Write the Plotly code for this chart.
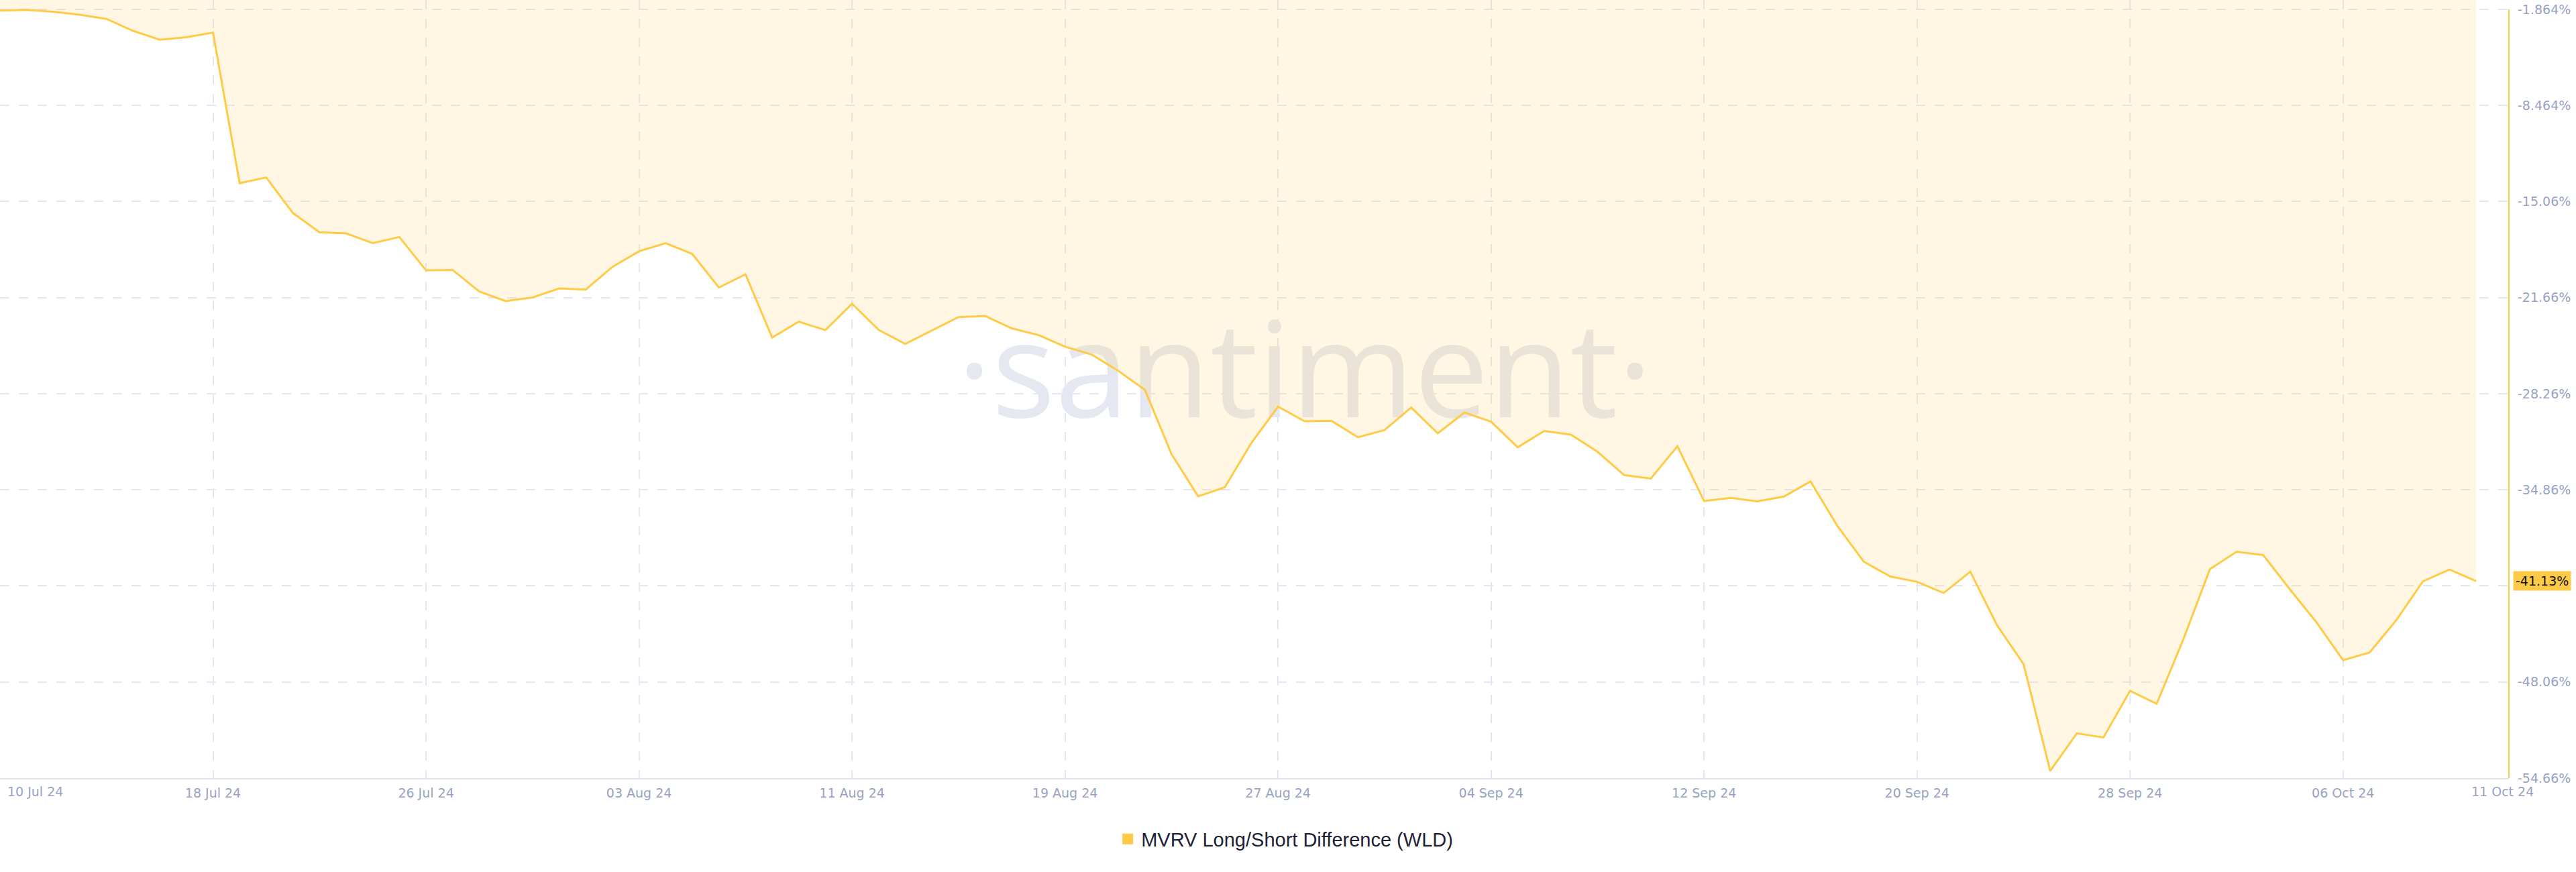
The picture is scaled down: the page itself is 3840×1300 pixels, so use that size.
import pandas as pd
import plotly.graph_objects as go

# ---- data ----
start_date = "2024-07-10"
end_date = "2024-10-11"
mvrv_values = [
    -1.95, -1.90, -2.03, -2.23, -2.52, -3.34, -3.95, -3.78, -3.46, -13.80,
    -13.41, -15.85, -17.17, -17.25, -17.92, -17.50, -19.79, -19.76, -21.24, -21.90,
    -21.65, -21.03, -21.11, -19.55, -18.48, -17.92, -18.66, -20.97, -20.06, -24.41,
    -23.31, -23.89, -22.08, -23.88, -24.84, -23.91, -23.00, -22.92, -23.77, -24.23,
    -25.03, -25.57, -26.69, -28.00, -32.41, -35.31, -34.69, -31.64, -29.15, -30.15,
    -30.12, -31.25, -30.76, -29.21, -30.98, -29.55, -30.18, -31.94, -30.82, -31.07,
    -32.25, -33.85, -34.09, -31.87, -35.63, -35.41, -35.66, -35.32, -34.29, -37.32,
    -39.80, -40.82, -41.18, -41.95, -40.49, -44.15, -46.83, -54.17, -51.59, -51.87,
    -48.67, -49.56, -45.14, -40.31, -39.11, -39.34, -41.69, -43.96, -46.56, -46.03,
    -43.81, -41.15, -40.34, -41.13,
]
dates = pd.date_range(start_date, end_date, freq="D")

x_tick_dates = ["2024-07-10", "2024-07-18", "2024-07-26", "2024-08-03", "2024-08-11",
                "2024-08-19", "2024-08-27", "2024-09-04", "2024-09-12", "2024-09-20",
                "2024-09-28", "2024-10-06"]
x_tick_text = ["", "18 Jul 24", "26 Jul 24", "03 Aug 24", "11 Aug 24", "19 Aug 24",
               "27 Aug 24", "04 Sep 24", "12 Sep 24", "20 Sep 24", "28 Sep 24", "06 Oct 24"]
first_label = "10 Jul 24"
last_label = "11 Oct 24"

y_tick_vals = [-1.864, -8.464, -15.06, -21.66, -28.26, -34.86, -41.46, -48.06, -54.66]
y_tick_text = ["-1.864%", "-8.464%", "-15.06%", "-21.66%", "-28.26%", "-34.86%",
               "-41.46%", "-48.06%", "-54.66%"]

series_name = "MVRV Long/Short Difference (WLD)"
last_value_label = "-41.13%"
watermark = "·santiment·"

# ---- style ----
YELLOW = "#FFCB47"
TICK_COLOR = "#97A2C2"
GRID_COLOR = "#E4E7F1"
FONT = "DejaVu Sans"
TICK_SIZE = 19

fig = go.Figure()

# watermark (drawn first so the fill sits over it)
fig.add_trace(go.Scatter(
    x=[pd.Timestamp("2024-08-28")], y=[-27.6], mode="text", text=[watermark],
    textfont=dict(family="Open Sans", size=198, color="#E5E8F1"),
    textposition="middle center", hoverinfo="skip", showlegend=False,
    cliponaxis=True,
))

fig.add_trace(go.Scatter(
    x=dates, y=mvrv_values, mode="lines",
    line=dict(color=YELLOW, width=3),
    fill="tozeroy", fillcolor="rgba(255,203,71,0.15)",
    showlegend=False, name=series_name,
))

# legend entry (square swatch)
fig.add_trace(go.Scatter(
    x=[None], y=[None], mode="markers", name=series_name,
    marker=dict(symbol="square", size=19, color=YELLOW),
    showlegend=True,
))

fig.update_layout(
    width=3840, height=1300,
    margin=dict(l=0, r=100, t=0, b=140, autoexpand=False),
    paper_bgcolor="white", plot_bgcolor="white",
    font=dict(family=FONT, size=TICK_SIZE, color=TICK_COLOR),
    showlegend=True,
    legend=dict(
        orientation="h", xref="container", yref="container",
        x=0.499, xanchor="center", y=0.0377, yanchor="middle",
        font=dict(family="Liberation Sans", size=29, color="#1E2235"),
        itemwidth=30, bgcolor="rgba(0,0,0,0)",
    ),
    xaxis=dict(
        type="date", automargin=False,
        range=["2024-07-10", "2024-10-12 05:30"],
        tickvals=x_tick_dates, ticktext=x_tick_text,
        showgrid=True, gridcolor=GRID_COLOR, gridwidth=2, griddash="14px,14px",
        showline=True, linecolor="#E3E7F0", linewidth=2,
        ticks="", ticklabelstandoff=4,
        tickfont=dict(family=FONT, size=TICK_SIZE, color=TICK_COLOR),
        zeroline=False,
    ),
    yaxis=dict(
        side="right", automargin=False,
        range=[-54.66, -1.219],
        tickvals=y_tick_vals, ticktext=y_tick_text,
        showgrid=True, gridcolor=GRID_COLOR, gridwidth=2, griddash="14px,14px",
        showline=False, ticks="", ticklabelstandoff=12,
        tickfont=dict(family=FONT, size=TICK_SIZE, color=TICK_COLOR),
        zeroline=False,
    ),
    shapes=[dict(
        type="line", xref="paper", yref="y", x0=1, x1=1,
        y0=y_tick_vals[0], y1=y_tick_vals[-1],
        line=dict(color=YELLOW, width=2),
    )],
    annotations=[
        dict(text=first_label, xref="paper", yref="paper", x=0, y=0,
             xanchor="left", yanchor="middle", xshift=9, yshift=-20, showarrow=False,
             font=dict(family=FONT, size=TICK_SIZE, color=TICK_COLOR)),
        dict(text=last_label, xref="paper", yref="paper", x=3730 / 3740, y=0,
             xanchor="center", yanchor="middle", yshift=-20, showarrow=False,
             font=dict(family=FONT, size=TICK_SIZE, color=TICK_COLOR)),
        dict(text=last_value_label, xref="paper", yref="y", x=1, y=mvrv_values[-1],
             xanchor="left", yanchor="middle", xshift=6, showarrow=False,
             bgcolor=YELLOW, borderpad=3,
             font=dict(family=FONT, size=TICK_SIZE, color="#111111")),
    ],
)

fig.write_html(
    "out.html",
    config={"displayModeBar": False},
    post_script="document.body.style.margin='0px';document.body.style.overflow='hidden';",
)
